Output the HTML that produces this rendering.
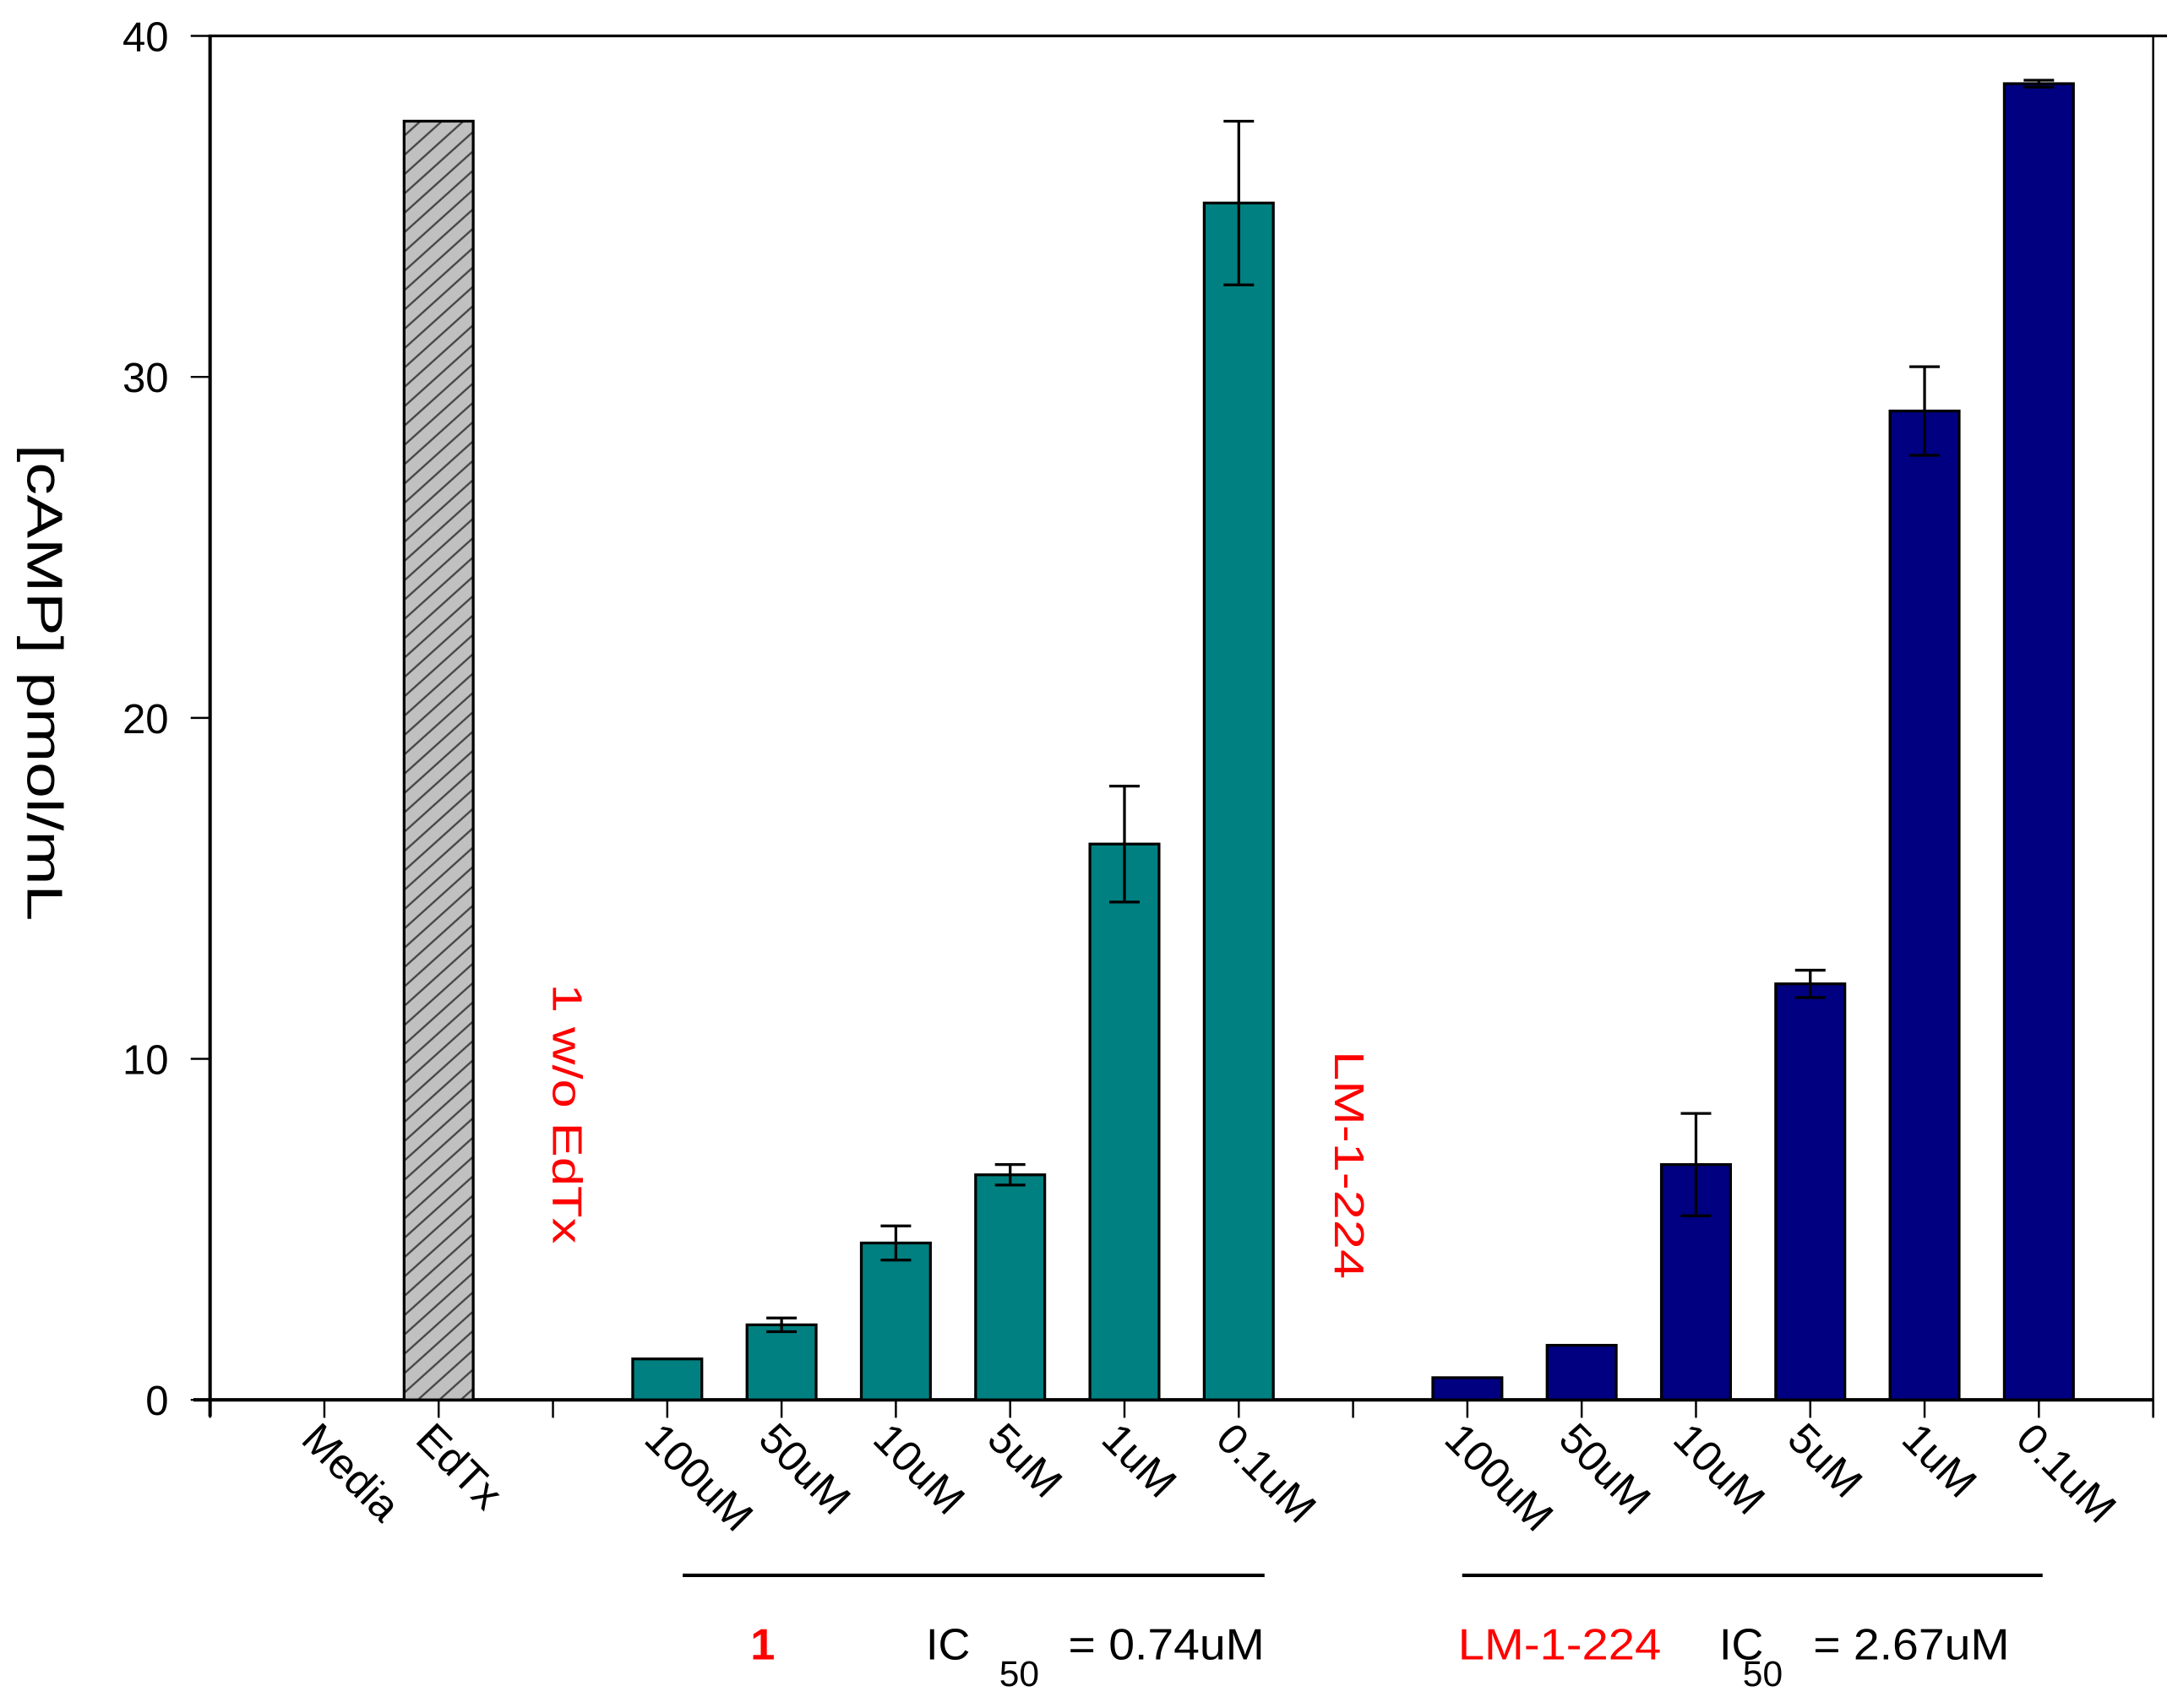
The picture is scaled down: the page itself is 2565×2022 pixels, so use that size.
<!DOCTYPE html>
<html><head><meta charset="utf-8"><style>
html,body{margin:0;padding:0;background:#fff;}
svg{display:block;}
text{font-family:"Liberation Sans",Arial,sans-serif;}
</style></head><body>
<svg id="chart" width="2565" height="2022" viewBox="0 0 1568 1236" preserveAspectRatio="none" xmlns="http://www.w3.org/2000/svg">
<defs>
<pattern id="hatch" patternUnits="userSpaceOnUse" width="20" height="10.4" patternTransform="translate(0,5) rotate(-42)">
<rect x="-1" y="-1" width="22" height="12.4" fill="#c0c0c0"/>
<line x1="-1" y1="5" x2="21" y2="5" stroke="#444" stroke-width="1.4"/>
</pattern>
</defs>
<g id="plot"></g>
</svg>
<script>
const categories=["Media","EdTx","","100uM","50uM","10uM","5uM","1uM","0.1uM","","100uM","50uM","10uM","5uM","1uM","0.1uM"];
const values=[0,37.5,0,1.2,2.2,4.6,6.6,16.3,35.1,0,0.65,1.6,6.9,12.2,29.0,38.6];
const errors=[0,0,0,0,0.2,0.5,0.3,1.7,2.4,0,0,0,1.5,0.4,1.3,0.1];
const seriesKind=["none","edtx","none","teal","teal","teal","teal","teal","teal","none","navy","navy","navy","navy","navy","navy"];
const yTicks=[0,10,20,30,40];

const NS="http://www.w3.org/2000/svg";
const g=document.getElementById("plot");
const X0=152,X1=1558,Y0=1013,Ytop=26;
const step=(X1-X0)/17;
function xScale(i){return X0+step*(i+1);}
function yScale(v){return Y0-(Y0-Ytop)*v/40;}
function mk(tag,attrs){const e=document.createElementNS(NS,tag);for(const k in attrs)e.setAttribute(k,attrs[k]);g.appendChild(e);return e;}

let e=mk("line",{x1:X0,y1:Ytop-1,x2:X0,y2:Y0+12,stroke:"#000","stroke-width":2.5});


e=mk("line",{x1:X0,y1:Ytop,x2:X1+10,y2:Ytop,stroke:"#000","stroke-width":2});


e=mk("line",{x1:X1,y1:Ytop,x2:X1,y2:Y0+12,stroke:"#000","stroke-width":1.5});


e=mk("line",{x1:X0-12,y1:Y0,x2:X1,y2:Y0,stroke:"#000","stroke-width":2.5});



yTicks.forEach(t=>{
  const y=yScale(t);
  let l=mk("line",{x1:X0-14,y1:y,x2:X0,y2:y,stroke:"#000","stroke-width":1.5});
  
  
  let tx=mk("text",{x:X0-30,y:y+11,"text-anchor":"end","font-size":30});
  tx.textContent=t;
  
  
});
for(let i=0;i<=17;i++){
  const x=X0+step*i;
  let l=mk("line",{x1:x,y1:Y0,x2:x,y2:Y0+13,stroke:"#000","stroke-width":1.5});
  
  
}

const fills={edtx:"url(#hatch)",teal:"#008080",navy:"#000080"};
categories.forEach((c,i)=>{
  const x=xScale(i);
  if(seriesKind[i]!=="none" && values[i]>0){
    const y=yScale(values[i]);
    let r=mk("rect",{x:x-25,y:y,width:50,height:Y0-y,fill:fills[seriesKind[i]],stroke:"#000","stroke-width":2});
    
    
    if(errors[i]>0){
      const yh=yScale(values[i]+errors[i]),yl=yScale(values[i]-errors[i]);
      let el=mk("path",{d:`M${x},${yh}V${yl}M${x-11},${yh}H${x+11}M${x-11},${yl}H${x+11}`,stroke:"#000","stroke-width":2,fill:"none"});
      
      
    }
  }
  if(c){
    const lx=x-18, ly=Y0+30;
    let tx=mk("text",{x:lx,y:ly,"font-size":31,transform:`rotate(45 ${lx} ${ly})`});
    tx.textContent=c;
    
    
  }
});
</script>
<svg style="position:absolute;left:0;top:0" width="2565" height="2022" viewBox="0 0 1568 1236" preserveAspectRatio="none" xmlns="http://www.w3.org/2000/svg">
<text x="20" y="494" font-size="36" text-anchor="middle" textLength="345" lengthAdjust="spacingAndGlyphs" transform="rotate(90 20 494)">[cAMP] pmol/mL</text>
<text x="400" y="806" font-size="30" fill="#ff0000" text-anchor="middle" textLength="188" lengthAdjust="spacingAndGlyphs" transform="rotate(90 400 806)">1 w/o EdTx</text>
<text x="966" y="843" font-size="30" fill="#ff0000" text-anchor="middle" textLength="165" lengthAdjust="spacingAndGlyphs" transform="rotate(90 966 843)">LM-1-224</text>
<line x1="494" y1="1140" x2="915" y2="1140" stroke="#000" stroke-width="2.5"/>
<line x1="1058" y1="1140" x2="1478" y2="1140" stroke="#000" stroke-width="2.5"/>
<text x="543" y="1201" font-size="32" font-weight="bold" fill="#ff0000">1</text>
<text x="670" y="1201" font-size="32">IC</text>
<text x="723" y="1220" font-size="26">50</text>
<text x="773" y="1201" font-size="32" textLength="142" lengthAdjust="spacingAndGlyphs">= 0.74uM</text>
<text x="1055" y="1201" font-size="32" fill="#ff0000" textLength="147" lengthAdjust="spacingAndGlyphs">LM-1-224</text>
<text x="1244" y="1201" font-size="32">IC</text>
<text x="1261" y="1220" font-size="26">50</text>
<text x="1312" y="1201" font-size="32" textLength="142" lengthAdjust="spacingAndGlyphs">= 2.67uM</text>
</svg>
</body></html>
